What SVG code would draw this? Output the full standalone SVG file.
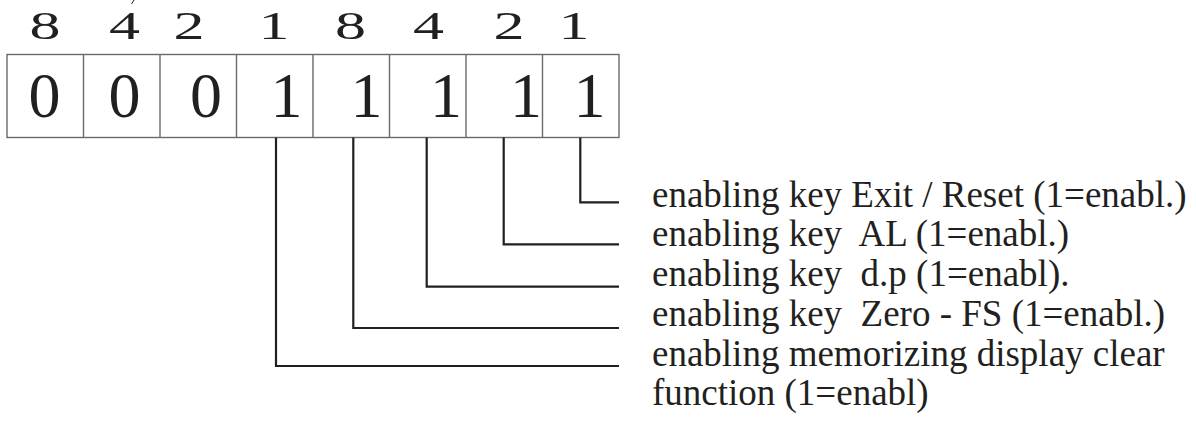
<svg xmlns="http://www.w3.org/2000/svg" width="1196" height="421" viewBox="0 0 1196 421">
<style>
.w{font-family:"Liberation Serif","Times New Roman",serif;fill:#231f20}
.top{font-size:40px}
.bit{font-size:64px}
.lbl{font-size:37px;white-space:pre}
.cell{fill:#fff;stroke:#6a6a6a;stroke-width:1.4}
.conn{fill:none;stroke:#231f20;stroke-width:2.2}
</style>
<rect width="1196" height="421" fill="#fff"/>
<path d="M131.5,4 L134,0" stroke="#231f20" stroke-width="1" fill="none"/>
<g id="weights" class="w top" text-anchor="middle">
<text transform="translate(45,39) scale(1.55,1)">8</text>
<text transform="translate(124.5,39) scale(1.55,1)">4</text>
<text transform="translate(189,39) scale(1.55,1)">2</text>
<text transform="translate(274,39) scale(1.55,1)">1</text>
<text transform="translate(350.5,39) scale(1.55,1)">8</text>
<text transform="translate(428.5,39) scale(1.55,1)">4</text>
<text transform="translate(509,39) scale(1.55,1)">2</text>
<text transform="translate(574,39) scale(1.55,1)">1</text>
</g>
<g id="register">
<rect class="cell" x="7" y="54.5" width="612" height="83"/>
<path class="cell" d="M83.5,54.5V137.5M160,54.5V137.5M236.5,54.5V137.5M313,54.5V137.5M389.5,54.5V137.5M466,54.5V137.5M542.5,54.5V137.5"/>
</g>
<g id="bits" class="w bit" text-anchor="middle">
<text x="44.6" y="117">0</text>
<text x="124.6" y="117">0</text>
<text x="206" y="117">0</text>
<text x="286.6" y="117">1</text>
<text x="366.5" y="117">1</text>
<text x="446" y="117">1</text>
<text x="526" y="117">1</text>
<text x="589.5" y="117">1</text>
</g>
<g id="connectors" class="conn">
<path d="M580.3,137.5V202.3H619"/>
<path d="M503.7,137.5V244.3H619"/>
<path d="M426.7,137.5V286.7H619"/>
<path d="M353.3,137.5V328H619"/>
<path d="M276,137.5V366H619"/>
</g>
<g id="labels" class="w lbl">
<text x="652" y="207" xml:space="preserve">enabling key Exit / Reset (1=enabl.)</text>
<text x="652" y="246" xml:space="preserve">enabling key  AL (1=enabl.)</text>
<text x="652" y="286" xml:space="preserve">enabling key  d.p (1=enabl).</text>
<text x="652" y="326" xml:space="preserve">enabling key  Zero - FS (1=enabl.)</text>
<text x="652" y="366" xml:space="preserve">enabling memorizing display clear</text>
<text x="652" y="405" xml:space="preserve">function (1=enabl)</text>
</g>
</svg>
